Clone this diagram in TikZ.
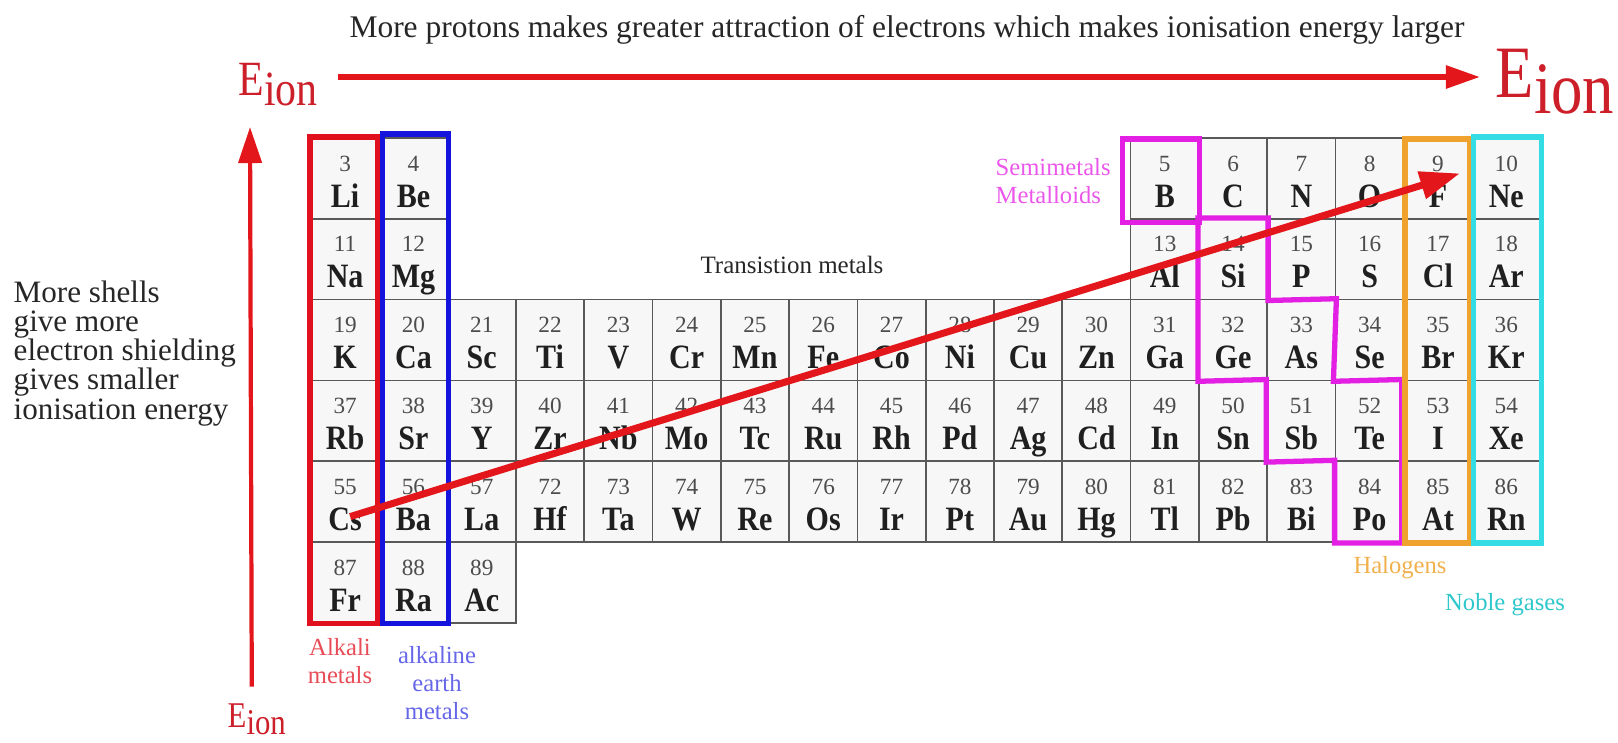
\documentclass[tikz,border=0pt]{standalone}
\usepackage{fontspec}
\setmainfont{Liberation Serif}
\newfontfamily\condfont{Liberation Serif}[FakeStretch=0.85]
\newfontfamily\symfont{Liberation Serif}[FakeStretch=0.88]
\usepackage{tikz}
\usetikzlibrary{arrows.meta,calc}

\definecolor{axisred}{HTML}{E3161B}
\definecolor{eionred}{HTML}{CC1F2A}
\definecolor{alkred}{HTML}{E0101E}
\definecolor{alkblue}{HTML}{1414DC}
\definecolor{metmag}{HTML}{E31FE3}
\definecolor{halorange}{HTML}{EFA22E}
\definecolor{noblecyan}{HTML}{33DDE3}

\newcommand{\ptcell}[4]{%
  \node[cell] (#1) at ({311+(#3-0.5)*68.3},{138+(#4-0.5)*80.8}) {};
  \node[num] at ($(#1.north)+(0,34)$) {#2};
  \node[sym] at ($(#1.north)+(0,70)$) {#1};}
\newcommand{\eion}{E\raisebox{-0.22em}{ion}}

\begin{document}
\begin{tikzpicture}[x=0.01cm, y=-0.01cm,
  font=\fontsize{8.85}{8.3}\selectfont,
  cell/.style={draw=black!65, line width=0.5pt, fill=gray!6, minimum width=0.683cm, minimum height=0.808cm, inner sep=0pt},
  num/.style={font=\fontsize{6.6}{7}\selectfont, text=black!70, anchor=base, inner sep=0pt},
  sym/.style={font=\symfont\bfseries\fontsize{9.7}{10}\selectfont, text=black!88, anchor=base, inner sep=0pt},
  group/.style={line width=1.5pt},
  axis/.style={-{Triangle[length=0.34cm,width=0.22cm]}, line width=1.6pt, draw=axisred},
  eion/.style={text=eionred, inner sep=0pt, anchor=base west},
  tag/.style={font=\fontsize{7}{8}\selectfont, align=center, inner sep=0pt}
]
  \useasboundingbox (0,0) rectangle (1618,742);

  \foreach \s/\n/\c/\r in {Li/3/1/1, Be/4/2/1, B/5/13/1, C/6/14/1, N/7/15/1, O/8/16/1, F/9/17/1, Ne/10/18/1,
      Na/11/1/2, Mg/12/2/2, Al/13/13/2, Si/14/14/2, P/15/15/2, S/16/16/2, Cl/17/17/2, Ar/18/18/2,
      Fr/87/1/6, Ra/88/2/6, Ac/89/3/6}
    {\ptcell{\s}{\n}{\c}{\r}}
  \foreach \s/\n [count=\c] in {K/19, Ca/20, Sc/21, Ti/22, V/23, Cr/24, Mn/25, Fe/26, Co/27, Ni/28, Cu/29, Zn/30, Ga/31, Ge/32, As/33, Se/34, Br/35, Kr/36}
    {\ptcell{\s}{\n}{\c}{3}}
  \foreach \s/\n [count=\c] in {Rb/37, Sr/38, Y/39, Zr/40, Nb/41, Mo/42, Tc/43, Ru/44, Rh/45, Pd/46, Ag/47, Cd/48, In/49, Sn/50, Sb/51, Te/52, I/53, Xe/54}
    {\ptcell{\s}{\n}{\c}{4}}
  \foreach \s/\n [count=\c] in {Cs/55, Ba/56, La/57, Hf/72, Ta/73, W/74, Re/75, Os/76, Ir/77, Pt/78, Au/79, Hg/80, Tl/81, Pb/82, Bi/83, Po/84, At/85, Rn/86}
    {\ptcell{\s}{\n}{\c}{5}}

  \draw[group, alkred] (Li.north west) rectangle ($(Fr.south east)+(-3,0)$);
  \draw[group, alkblue] ($(Be.north west)+(4,-3)$) rectangle (Ra.south east);
  \draw[group, metmag] ($(B.north west)+(-7,2)$) rectangle ($(B.south east)+(0,3)$);
  \draw[group, metmag] (Si.north west) -- (Si.north east) -- (Si.south east) -- (As.north east)
    -- ($(As.south east)+(-3,0)$) -- ($(Te.north east)+(-3,0)$) -- ($(Po.south east)+(-3,0)$) -- (Po.south west)
    -- (Po.north west) -- (Sb.south west) -- (Sb.north west) -- (Ge.south west) -- cycle;
  \draw[group, halorange] ($(F.north west)+(2,2)$) rectangle ($(At.south east)+(-3,0)$);
  \draw[group, noblecyan] ($(Ne.north west)+(2,0)$) rectangle (Rn.south east);

  \node[font=\fontsize{7.1}{8}\selectfont, text=black!85] (trans) at (792,265) {Transistion metals};
  \node[tag, align=left, anchor=west, text=metmag!75!white] (semi) at (995,181) {Semimetals\\Metalloids};
  \node[tag, text=alkred!75!white] (alk) at (340,661) {Alkali\\metals};
  \node[tag, text=alkblue!65!white] (earth) at (437,683) {alkaline\\earth\\metals};
  \node[tag, text=halorange!85!white] (halo) at (1400,568) {Halogens};
  \node[tag, text=noblecyan!90!black] (noble) at (1505,605) {Noble gases};

  \node[font=\fontsize{8.95}{9}\selectfont, text=black!85, anchor=base] (top) at (907,37) {More protons makes greater attraction of electrons which makes ionisation energy larger};
  \node[align=left, anchor=north west, text=black!85, inner sep=0pt] (shells) at (13,280) {More shells\\give more\\electron shielding\\gives smaller\\ionisation energy};

  \node[eion, font=\condfont\fontsize{14}{14}\selectfont] (eleft) at (238,95) {\eion};
  \node[eion, font=\condfont\fontsize{21}{21}\selectfont] (eright) at (1495,97) {\eion};
  \node[eion, font=\condfont\fontsize{10.3}{11}\selectfont] (ebot) at (227,727) {\eion};
  \coordinate (vtip) at (250,127);

  \draw[axis] ($(eleft.base east)+(20,-18)$) -- ($(eright.base west)+(-15,-20)$);
  \draw[axis, line width=1.2pt, -{Triangle[length=0.36cm,width=0.23cm]}] ($(ebot.north)+(-5,-16)$) -- (vtip);
  \draw[axis, line width=2pt, -{Triangle[length=0.4cm,width=0.27cm]}] ($(Cs.center)+(5,15)$) -- ($(F.center)+(22,-5)$);
\end{tikzpicture}
\end{document}
